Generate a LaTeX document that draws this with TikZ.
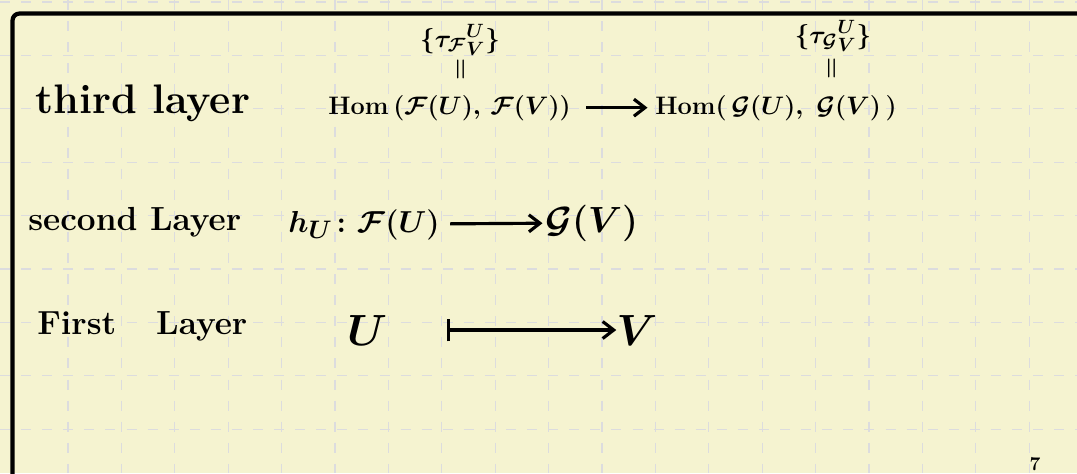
\documentclass[tikz,border=0pt]{standalone}
\usepackage{amsmath,amssymb}
\usepackage{xcolor}
\usepackage{tikz}
\usetikzlibrary{arrows.meta,positioning}
\definecolor{paper}{RGB}{245,243,208}
\definecolor{gridgray}{RGB}{220,220,222}

\begin{document}
\begin{tikzpicture}[x=0.02cm,y=-0.02cm,
  lbl/.style={inner sep=0pt,font=\fontsize{23.5}{28}\selectfont\bfseries\boldmath},
  mth/.style={inner sep=0pt,font=\fontsize{15.5}{19}\selectfont\boldmath},
  big/.style={inner sep=0pt,font=\fontsize{21}{25}\selectfont\bfseries\boldmath},
  sec/.style={inner sep=0pt,font=\fontsize{19}{23}\selectfont\bfseries\boldmath},
  tau/.style={inner sep=0pt,font=\fontsize{15}{18}\selectfont\boldmath},
  arr/.style={-{Straight Barb[length=2.2mm,width=3.4mm]},line width=1.8pt},
  mapto/.style={{Bar[width=4.5mm]}-{Straight Barb[length=2.2mm,width=3.4mm]},line width=1.8pt}]
\useasboundingbox[fill=paper] (0,0) rectangle (1077,473);
% paper grid
\foreach \i in {1,...,19}
  \draw[gridgray,line width=0.7pt,dash pattern=on 5.7pt off 6.3pt] (14.6+53.4*\i,0) -- (14.6+53.4*\i,473);
\foreach \j in {0,...,8}
  \draw[gridgray,line width=0.7pt,dash pattern=on 5.7pt off 6.3pt] (0,2+53.4*\j) -- (1077,2+53.4*\j);
% frame
\draw[line width=2.4pt,rounded corners=4pt] (12.5,480) -- (12.5,13.5) -- (1090,13.5);

% third layer
\node[lbl,anchor=base west] (third) at (35,113) {third layer};
\node[mth,anchor=base west] (homF) at (328,114) {$\mathrm{Hom}\,(\mathcal{F}(U),\,\mathcal{F}(V))$};
\node[mth,anchor=base west] (homG) at (655,114) {$\mathrm{Hom}(\,\mathcal{G}(U),\;\mathcal{G}(V)\,)$};
\draw[arr,shorten <=0.3cm,shorten >=0.15cm] (homF) -- (homG);
\node[tau] (tauF) at (460,40) {$\{\tau_{\mathcal{F}}{}^{U}_{V}\}$};
\node[tau,rotate=90] (eqF) at (462,69) {$=$};
\node[tau] (tauG) at (833,36) {$\{\tau_{\mathcal{G}}{}^{U}_{V}\}$};
\node[tau,rotate=90] (eqG) at (833,68) {$=$};

% second layer
\node[sec,anchor=base west] (second) at (28,230) {second Layer};
\node[sec,anchor=base west] (hU) at (288,232) {$h_U\colon\mathcal{F}(U)$};
\node[big,anchor=base west] (GV) at (545,232) {$\mathcal{G}(V)$};
\draw[arr,shorten <=0.2cm,shorten >=0.05cm] (hU) -- (GV);

% first layer
\node[sec,anchor=base west] (first) at (37,334) {First\hspace{0.8cm}Layer};
\node[lbl,anchor=base] (U) at (367,345) {$U$};
\node[lbl,anchor=base] (V) at (637,345) {$V$};
\draw[mapto,shorten <=1.2cm] (U) -- (V);

\node[inner sep=0pt,font=\fontsize{11}{13}\selectfont\bfseries,anchor=south] (seven) at (1035,471) {7};
\end{tikzpicture}
\end{document}
